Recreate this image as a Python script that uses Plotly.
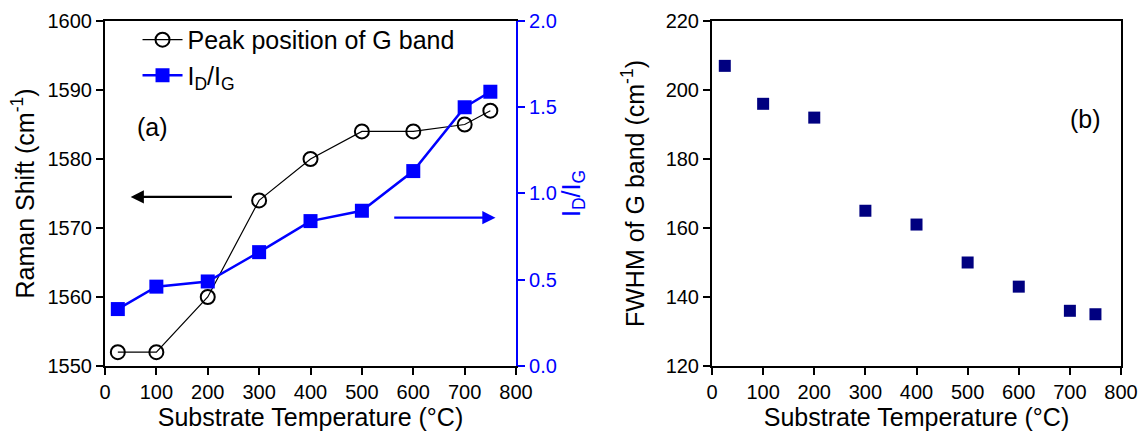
import plotly.graph_objects as go

# Substrate temperatures (°C)
temperature = [25, 100, 200, 300, 400, 500, 600, 700, 750]

# (a) Raman G band peak position (cm^-1) and D/G intensity ratio
g_peak = [1552, 1552, 1560, 1574, 1580, 1584, 1584, 1585, 1587]
id_ig = [0.33, 0.46, 0.49, 0.66, 0.84, 0.90, 1.13, 1.50, 1.59]

# (b) FWHM of the G band (cm^-1)
fwhm_g = [207, 196, 192, 165, 161, 150, 143, 136, 135]

x_ticks = [0, 100, 200, 300, 400, 500, 600, 700, 800]

FONT = "Liberation Sans, Arial, sans-serif"
BLUE = "#0000ff"
NAVY = "#000080"

fig = go.Figure()

fig.add_trace(go.Scatter(
    x=temperature, y=g_peak, name="Peak position of G band",
    mode="lines+markers",
    line=dict(color="black", width=1.2),
    marker=dict(symbol="circle-open", size=14, color="black", line=dict(width=2)),
    xaxis="x", yaxis="y",
))
fig.add_trace(go.Scatter(
    x=temperature, y=id_ig, name="I<sub>D</sub>/I<sub>G</sub>",
    mode="lines+markers",
    line=dict(color=BLUE, width=2.5),
    marker=dict(symbol="square", size=14, color=BLUE),
    xaxis="x", yaxis="y2",
))
fig.add_trace(go.Scatter(
    x=temperature, y=fwhm_g, name="FWHM",
    mode="markers", showlegend=False,
    marker=dict(symbol="square", size=12, color=NAVY),
    xaxis="x2", yaxis="y3",
))

tick_font = dict(family=FONT, size=20, color="black")
title_font = dict(family=FONT, size=25, color="black")

common_x = dict(
    range=[0, 800], tickvals=x_ticks, ticks="outside", ticklen=7, tickwidth=2,
    tickcolor="black", showline=True, linecolor="black", linewidth=2,
    showgrid=False, zeroline=False, tickfont=tick_font, automargin=False,
    title=dict(text="Substrate Temperature (°C)", font=title_font, standoff=5),
)

fig.update_layout(
    width=1146, height=434,
    margin=dict(l=0, r=0, t=0, b=0),
    paper_bgcolor="white", plot_bgcolor="white",
    font=dict(family=FONT, color="black"),
    xaxis=dict(domain=[0.0916, 0.4503], anchor="y", mirror=True, **common_x),
    yaxis=dict(
        domain=[0.1567, 0.9516], anchor="x", range=[1550, 1600], dtick=10,
        ticks="outside", ticklen=7, tickwidth=2, tickcolor="black",
        showline=True, linecolor="black", linewidth=2, automargin=False,
        showgrid=False, zeroline=False, tickfont=tick_font,
        title=dict(text="Raman Shift (cm<sup>-1</sup>)", font=title_font, standoff=6),
    ),
    yaxis2=dict(
        overlaying="y", side="right", anchor="x", range=[0, 2], dtick=0.5,
        tickformat=".1f", ticks="outside", ticklen=7, tickwidth=2, tickcolor=BLUE,
        showline=True, linecolor=BLUE, linewidth=2, automargin=False,
        showgrid=False, zeroline=False,
        tickfont=dict(family=FONT, size=20, color=BLUE),
        title=dict(text="I<sub>D</sub>/I<sub>G</sub>",
                   font=dict(family=FONT, size=25, color=BLUE), standoff=2),
    ),
    xaxis2=dict(domain=[0.6213, 0.9782], anchor="y3", mirror=True, **common_x),
    yaxis3=dict(
        domain=[0.1567, 0.9516], anchor="x2", range=[120, 220], dtick=20,
        ticks="outside", ticklen=7, tickwidth=2, tickcolor="black",
        showline=True, linecolor="black", linewidth=2, mirror=True, automargin=False,
        showgrid=False, zeroline=False, tickfont=tick_font,
        title=dict(text="FWHM of G band (cm<sup>-1</sup>)", font=title_font, standoff=14),
    ),
    legend=dict(
        x=0.120, y=0.961, xanchor="left", yanchor="top",
        bgcolor="rgba(0,0,0,0)", font=dict(family=FONT, size=25, color="black"),
        itemwidth=40, tracegroupgap=0,
    ),
    showlegend=True,
)

# Panel labels
fig.add_annotation(x=92, y=1584.6, xref="x", yref="y", text="(a)", showarrow=False,
                   font=dict(family=FONT, size=25, color="black"))
fig.add_annotation(x=730, y=191.5, xref="x2", yref="y3", text="(b)", showarrow=False,
                   font=dict(family=FONT, size=25, color="black"))

# Arrows pointing to the axis each curve belongs to
fig.add_annotation(x=50, y=1574.5, ax=250, ay=1574.5, xref="x", yref="y",
                   axref="x", ayref="y", text="", showarrow=True,
                   arrowhead=2, arrowsize=1.2, arrowwidth=2.2, arrowcolor="black")
fig.add_annotation(x=760, y=0.86, ax=560, ay=0.86, xref="x", yref="y2",
                   axref="x", ayref="y2", text="", showarrow=True,
                   arrowhead=2, arrowsize=1.2, arrowwidth=2.2, arrowcolor=BLUE)

fig.write_html("out.html")
